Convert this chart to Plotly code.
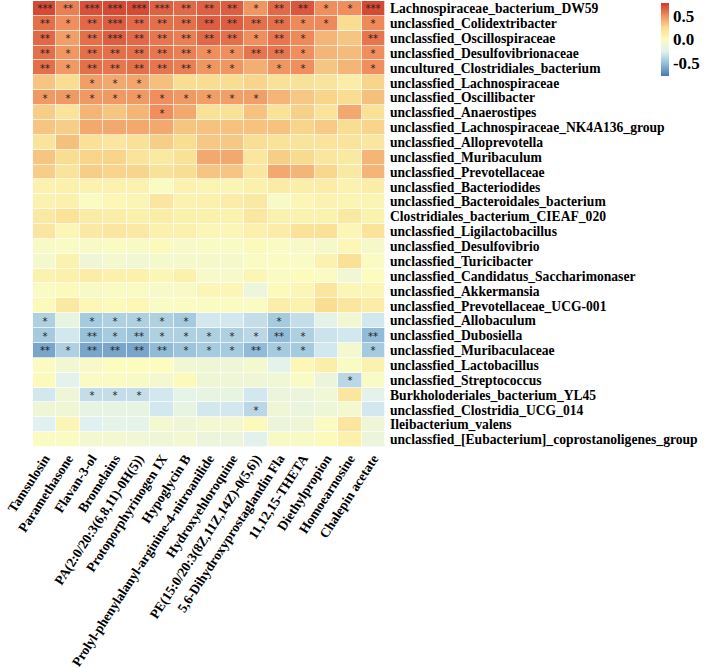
import plotly.graph_objects as go

metabolites = [
    "Tamsulosin", "Paramethasone", "Flavan-3-ol", "Bromelains",
    "PA(2:0/20:3(6,8,11)-0H(5))", "Protoporphyrinogen IX", "Hypoglycin B",
    "Prolyl-phenylalanyl-arginine-4-nitroanilide", "Hydroxyehloroquine",
    "PE(15:0/20:3(8Z,11Z,14Z)-0(5,6))", "5,6-Dihydroxyprostaglandin Fla",
    "11,12,15-THETA", "Diethylpropion", "Homoearnosine", "Chalepin acetate",
]

bacteria = [
    "Lachnospiraceae_bacterium_DW59",
    "unclassfied_Colidextribacter",
    "unclassfied_Oscillospiraceae",
    "unclassfied_Desulfovibrionaceae",
    "uncultured_Clostridiales_bacterium",
    "unclassfied_Lachnospiraceae",
    "unclassfied_Oscillibacter",
    "unclassfied_Anaerostipes",
    "unclassfied_Lachnospiraceae_NK4A136_group",
    "unclassfied_Alloprevotella",
    "unclassfied_Muribaculum",
    "unclassfied_Prevotellaceae",
    "unclassfied_Bacteriodides",
    "unclassfied_Bacteroidales_bacterium",
    "Clostridiales_bacterium_CIEAF_020",
    "unclassfied_Ligilactobacillus",
    "unclassfied_Desulfovibrio",
    "unclassfied_Turicibacter",
    "unclassfied_Candidatus_Saccharimonaser",
    "unclassfied_Akkermansia",
    "unclassfied_Prevotellaceae_UCG-001",
    "unclassfied_Allobaculum",
    "unclassfied_Dubosiella",
    "unclassfied_Muribaculaceae",
    "unclassfied_Lactobacillus",
    "unclassfied_Streptococcus",
    "Burkholoderiales_bacterium_YL45",
    "unclassfied_Clostridia_UCG_014",
    "Ileibacterium_valens",
    "unclassfied_[Eubacterium]_coprostanoligenes_group",
]

correlation = [
    [0.72, 0.55, 0.70, 0.72, 0.72, 0.65, 0.62, 0.65, 0.66, 0.48, 0.62, 0.68, 0.50, 0.50, 0.72],
    [0.60, 0.50, 0.62, 0.66, 0.62, 0.60, 0.60, 0.66, 0.66, 0.60, 0.60, 0.52, 0.52, 0.25, 0.52],
    [0.62, 0.45, 0.60, 0.66, 0.62, 0.58, 0.55, 0.62, 0.60, 0.50, 0.58, 0.52, 0.38, 0.33, 0.58],
    [0.60, 0.48, 0.60, 0.60, 0.60, 0.58, 0.55, 0.50, 0.50, 0.58, 0.58, 0.50, 0.38, 0.36, 0.50],
    [0.60, 0.47, 0.60, 0.58, 0.60, 0.58, 0.55, 0.48, 0.48, 0.40, 0.48, 0.50, 0.33, 0.38, 0.50],
    [0.33, 0.25, 0.45, 0.42, 0.43, 0.35, 0.25, 0.25, 0.25, 0.28, 0.22, 0.22, 0.20, 0.12, 0.28],
    [0.47, 0.47, 0.47, 0.47, 0.47, 0.50, 0.47, 0.45, 0.45, 0.45, 0.38, 0.32, 0.28, 0.25, 0.35],
    [0.30, 0.20, 0.38, 0.33, 0.38, 0.50, 0.42, 0.22, 0.22, 0.34, 0.21, 0.29, 0.20, 0.42, 0.22],
    [0.33, 0.30, 0.42, 0.42, 0.42, 0.42, 0.33, 0.34, 0.34, 0.34, 0.34, 0.28, 0.31, 0.25, 0.28],
    [0.20, 0.35, 0.22, 0.18, 0.22, 0.30, 0.25, 0.32, 0.32, 0.24, 0.21, 0.19, 0.19, 0.20, 0.18],
    [0.33, 0.25, 0.28, 0.28, 0.20, 0.15, 0.22, 0.42, 0.42, 0.18, 0.30, 0.26, 0.18, 0.15, 0.38],
    [0.30, 0.20, 0.30, 0.28, 0.28, 0.22, 0.25, 0.33, 0.33, 0.18, 0.42, 0.38, 0.27, 0.15, 0.38],
    [0.08, 0.10, 0.08, 0.08, 0.08, -0.02, 0.08, 0.06, 0.06, 0.10, 0.13, 0.11, 0.12, 0.08, 0.12],
    [0.08, 0.10, -0.02, 0.04, 0.06, 0.18, 0.08, 0.10, 0.12, 0.15, -0.04, 0.05, 0.08, 0.06, 0.06],
    [0.15, 0.21, 0.13, 0.12, 0.10, 0.12, 0.10, 0.10, 0.08, 0.16, 0.09, 0.08, 0.08, 0.15, 0.08],
    [0.18, 0.05, 0.15, 0.18, 0.15, 0.10, 0.10, 0.05, 0.05, 0.10, 0.12, 0.21, 0.22, 0.05, 0.20],
    [-0.04, -0.03, -0.04, -0.02, -0.04, 0.02, -0.05, -0.03, -0.03, 0.02, -0.03, -0.05, -0.06, 0.04, -0.06],
    [-0.07, 0.08, -0.12, -0.08, -0.10, -0.07, -0.06, -0.06, -0.06, -0.02, -0.02, -0.03, 0.08, 0.22, -0.02],
    [0.08, 0.10, 0.12, 0.10, 0.10, 0.05, 0.10, -0.05, -0.05, 0.05, -0.02, 0.01, -0.02, -0.10, 0.00],
    [-0.02, 0.02, -0.04, -0.02, -0.02, -0.05, -0.04, 0.05, 0.05, -0.14, 0.02, 0.05, 0.18, 0.05, 0.05],
    [0.02, 0.15, 0.04, 0.02, 0.04, -0.03, -0.02, -0.02, -0.02, -0.02, 0.11, 0.08, 0.25, 0.18, 0.12],
    [-0.42, -0.18, -0.45, -0.42, -0.42, -0.42, -0.45, -0.30, -0.30, -0.35, -0.45, -0.35, -0.21, -0.10, -0.30],
    [-0.45, -0.30, -0.50, -0.45, -0.48, -0.42, -0.42, -0.42, -0.42, -0.38, -0.52, -0.42, -0.32, -0.30, -0.52],
    [-0.60, -0.42, -0.60, -0.60, -0.60, -0.52, -0.48, -0.45, -0.45, -0.52, -0.45, -0.45, -0.30, -0.08, -0.45],
    [-0.02, -0.10, -0.05, 0.00, 0.00, 0.00, -0.10, -0.12, -0.12, -0.08, -0.21, 0.04, 0.11, -0.03, 0.08],
    [0.02, -0.22, -0.02, -0.02, -0.04, -0.08, 0.02, -0.12, -0.12, -0.12, -0.11, -0.03, -0.15, -0.38, -0.03],
    [-0.30, -0.12, -0.35, -0.35, -0.35, -0.30, -0.20, -0.18, -0.18, -0.30, -0.15, -0.15, -0.11, 0.18, -0.22],
    [-0.12, -0.12, -0.18, -0.18, -0.18, -0.30, -0.18, -0.30, -0.30, -0.38, -0.12, -0.16, -0.13, -0.08, -0.30],
    [-0.25, 0.05, -0.25, -0.20, -0.20, -0.08, -0.12, -0.08, -0.08, 0.02, -0.15, -0.12, -0.02, 0.18, -0.12],
    [-0.02, -0.02, -0.08, -0.08, -0.10, -0.12, -0.08, -0.15, -0.15, -0.23, -0.04, -0.04, 0.02, 0.10, -0.15],
]

stars = [
    ["***", "**", "***", "***", "***", "***", "**", "**", "**", "*", "**", "**", "*", "*", "***"],
    ["**", "*", "**", "***", "**", "**", "**", "**", "**", "**", "**", "*", "*", "", "*"],
    ["**", "*", "**", "***", "**", "**", "**", "**", "**", "*", "**", "*", "", "", "**"],
    ["**", "*", "**", "**", "**", "**", "**", "*", "*", "**", "**", "*", "", "", "*"],
    ["**", "*", "**", "**", "**", "**", "**", "*", "*", "", "*", "*", "", "", "*"],
    ["", "", "*", "*", "*", "", "", "", "", "", "", "", "", "", ""],
    ["*", "*", "*", "*", "*", "*", "*", "*", "*", "*", "", "", "", "", ""],
    ["", "", "", "", "", "*", "", "", "", "", "", "", "", "", ""],
    [""] * 15,
    [""] * 15,
    [""] * 15,
    [""] * 15,
    [""] * 15,
    [""] * 15,
    [""] * 15,
    [""] * 15,
    [""] * 15,
    [""] * 15,
    [""] * 15,
    [""] * 15,
    [""] * 15,
    ["*", "", "*", "*", "*", "*", "*", "", "", "", "*", "", "", "", ""],
    ["*", "", "**", "*", "**", "*", "*", "*", "*", "*", "**", "*", "", "", "**"],
    ["**", "*", "**", "**", "**", "**", "*", "*", "*", "**", "*", "*", "", "", "*"],
    [""] * 15,
    ["", "", "", "", "", "", "", "", "", "", "", "", "", "*", ""],
    ["", "", "*", "*", "*", "", "", "", "", "", "", "", "", "", ""],
    ["", "", "", "", "", "", "", "", "", "*", "", "", "", "", ""],
    [""] * 15,
    [""] * 15,
]

colorbar_ticks = [0.5, 0.0, -0.5]
colorbar_ticktext = ["0.5", "0.0", "-0.5"]

palette = ["#4a77b2", "#93bdd8", "#e0f0f2", "#fcfcbe", "#f9dc90", "#ef8b5a", "#cf3a2c"]
colorscale = [[i / (len(palette) - 1), c] for i, c in enumerate(palette)]

font_y = dict(family="Liberation Serif", size=13.6, color="black", weight="bold")
font_x = dict(family="Liberation Serif", size=13.5, color="black", weight="bold")

fig = go.Figure(
    go.Heatmap(
        z=correlation,
        x=metabolites,
        y=bacteria,
        text=stars,
        texttemplate="%{text}",
        textfont=dict(family="DejaVu Sans", size=10, color="#222222"),
        colorscale=colorscale,
        zmin=-0.77,
        zmax=0.77,
        xgap=0.7,
        ygap=0.7,
        colorbar=dict(
            x=1.757,
            xanchor="left",
            y=0.9955,
            yanchor="top",
            lenmode="pixels",
            len=73,
            ypad=0,
            thickness=8,
            outlinewidth=0,
            tickvals=colorbar_ticks,
            ticktext=colorbar_ticktext,
            ticks="",
            tickfont=dict(family="Liberation Serif", size=17, color="black", weight="bold"),
        ),
        hoverongaps=False,
    )
)

fig.update_layout(
    width=708,
    height=668,
    margin=dict(l=33, r=320, t=1, b=221),
    paper_bgcolor="white",
    plot_bgcolor="white",
    xaxis=dict(
        tickangle=-57,
        tickfont=font_x,
        tickmode="array",
        tickvals=metabolites,
        ticktext=metabolites,
        automargin=False,
        showgrid=False,
        zeroline=False,
        ticks="",
        showline=False,
    ),
    yaxis=dict(
        side="right",
        autorange="reversed",
        tickfont=font_y,
        tickmode="array",
        tickvals=bacteria,
        ticktext=bacteria,
        ticklabelstandoff=4,
        automargin=False,
        showgrid=False,
        zeroline=False,
        ticks="",
        showline=False,
    ),
)

fig.write_html("out.html")
